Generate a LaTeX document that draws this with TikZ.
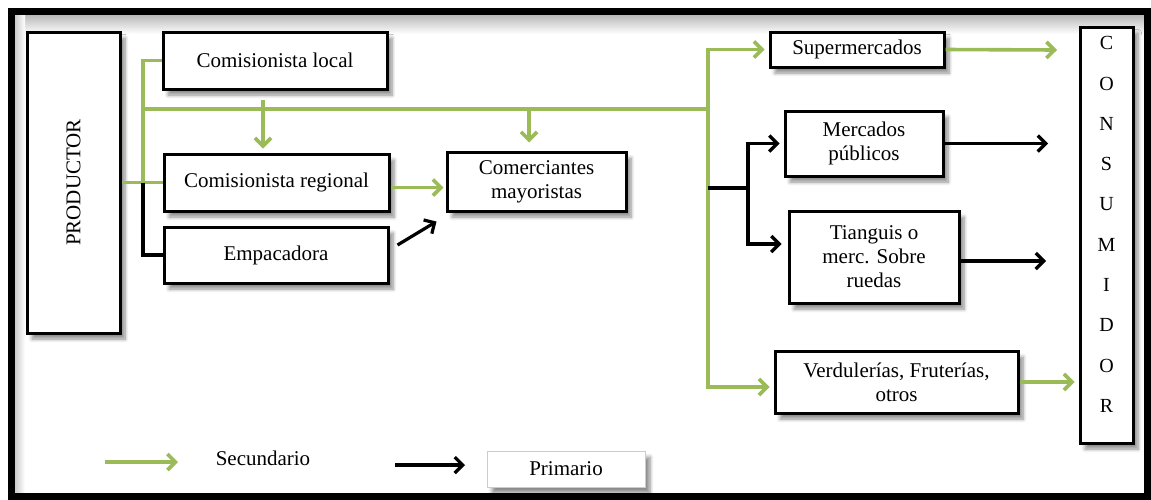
\documentclass[tikz,border=0pt]{standalone}
\usepackage{fontspec}
\setmainfont{Liberation Serif}
\usetikzlibrary{arrows.meta,shadows.blur,calc}
\definecolor{gr}{HTML}{9BBB59}
\tikzset{
  box/.style={draw, line width=1.5pt, fill=white, inner sep=0pt, align=center,
    font=\fontsize{10.5}{12}\selectfont,
    blur shadow={shadow blur steps=8, shadow xshift=2.5pt, shadow yshift=-3pt, shadow opacity=45}},
  gline/.style={draw=gr, line width=1.8pt},
  kline/.style={draw=black, line width=1.6pt},
  tip/.style={-{Straight Barb[length=4pt,width=8pt]}},
}
\begin{document}
\begin{tikzpicture}[x=0.5pt,y=-0.5pt]
\useasboundingbox (0,0) rectangle (1151,499);
% frame
\shade[top color=gray!55, bottom color=white] (15,15) rectangle (1145,34);
\shade[left color=gray!40, right color=white] (15,15) rectangle (25,494);
\draw[line width=3.8pt] (11.5,11.5) rectangle (1147.5,496.5);

% nodes
\node[box, minimum width=46.5pt, minimum height=150.5pt] (prod) at (73.5,182.5) {\rotatebox{90}{PRODUCTOR}};
\node[box, minimum width=112pt, minimum height=28.5pt] (cl) at (275,60.5) {Comisionista local};
\node[box, minimum width=112.5pt, minimum height=28.5pt] (cr) at (276.5,182.5) {Comisionista regional};
\node[box, minimum width=112pt, minimum height=28pt] (emp) at (276,255) {Empacadora};
\node[box, minimum width=89.5pt, minimum height=29.5pt] (cm) at (536.5,181.5) {Comerciantes\\mayoristas};
\node[box, minimum width=87pt, minimum height=17.5pt] (sup) at (857,49.5) {Supermercados};
\node[box, minimum width=79pt, minimum height=32.5pt] (mp) at (864,143.5) {Mercados\\públicos};
\node[box, minimum width=85pt, minimum height=46pt] (ti) at (874,257) {Tianguis o\\merc. Sobre\\ruedas};
\node[box, minimum width=121.5pt, minimum height=31pt] (ve) at (896.5,382) {Verdulerías, Fruterías,\\otros};
\node[box, minimum width=26.5pt, minimum height=208pt] (con) at (1106.5,235) {};
\node[align=center, inner sep=0pt, font=\fontsize{10}{20.15}\selectfont] (conT) at (1106.5,224.5) {C\\O\\N\\S\\U\\M\\I\\D\\O\\R};

% junctions
\coordinate (j1) at (143,182.5);
\coordinate (jA) at (143,109);
\coordinate (jB) at (708,109);
\coordinate (a1) at (263,100);
\coordinate (a2) at (529,109);
\coordinate (jC) at (708,188);
\coordinate (jD) at (748,188);
\coordinate (s1) at (1057,50);
\coordinate (m1) at (1048,143.5);
\coordinate (t1) at (1046,261);

% green (secundario)
\draw[gline] (prod.east) -- (cr.west);
\draw[gline] (j1) |- (cl.west);
\draw[gline] (jA) -- (jB);
\draw[gline, tip, shorten >=2pt] (a1) -- (a1 |- cr.north);
\draw[gline, tip, shorten >=4pt] (a2) -- (a2 |- cm.north);
\draw[gline, tip, shorten >=2pt] (jB) |- (sup.west);
\draw[gline] (jB) -- (jC);
\draw[gline, tip, shorten >=2pt] (jC) |- ([yshift=-2.5pt]ve.west);
\draw[gline, tip, shorten >=1pt] ([yshift=-2.5pt]cr.east) -- ([yshift=-3pt]cm.west);
\draw[gline, tip] (sup.east) -- (s1);
\draw[gline, tip, shorten >=2pt] (ve.east) -- (ve.east -| con.west);

% black (primario)
\draw[kline] (j1) |- (emp.west);
\draw[kline, tip] ([xshift=4pt,yshift=5pt]emp.east) -- ([xshift=-4.5pt,yshift=-20pt]cm.west);
\draw[kline] (jC) -- (jD);
\draw[kline, tip, shorten >=2pt] (jD) |- (mp.west);
\draw[kline, tip, shorten >=3pt] (jD) |- ([yshift=6.5pt]ti.west);
\draw[kline, tip] (mp.east) -- (m1);
\draw[kline, tip] ([yshift=-2pt]ti.east) -- (t1);

% legend
\coordinate (lg1) at (105,462);
\coordinate (lg2) at (178,462);
\coordinate (lk1) at (395,465);
\coordinate (lk2) at (465,465);
\draw[gline, tip] (lg1) -- (lg2);
\node[font=\fontsize{10.5}{12}\selectfont] (sec) at (263,458) {Secundario};
\draw[kline, tip] (lk1) -- (lk2);
\node[draw=gray!40, line width=0.5pt, fill=white, minimum width=79pt, minimum height=18pt,
  font=\fontsize{10.5}{12}\selectfont,
  blur shadow={shadow blur steps=8, shadow xshift=2.5pt, shadow yshift=-3pt, shadow opacity=45}] (prim) at (566,469) {Primario};
\end{tikzpicture}
\end{document}
